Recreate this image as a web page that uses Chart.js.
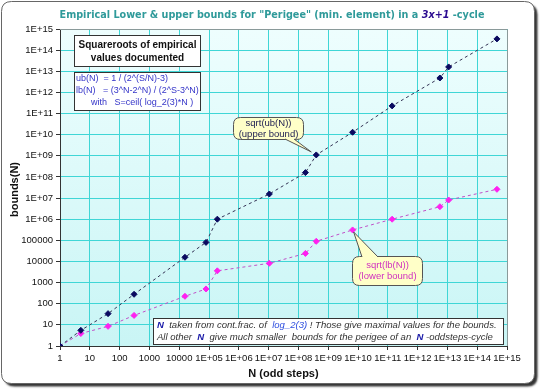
<!DOCTYPE html>
<html><head><meta charset="utf-8">
<script src="https://cdn.jsdelivr.net/npm/chart.js@4.4.1/dist/chart.umd.min.js"></script>
<style>html,body{margin:0;padding:0;background:#fff;}canvas{display:block;}</style>
</head><body>
<canvas id="c" width="540" height="389"></canvas>
<script>
// ---- data ----
const nValues     = [1, 5, 41, 306, 15601, 79335, 190537, 10590737, 171928773, 397573379, 6586818670, 1.4e11, 5.6e12, 1.1e13, 4.6e14];
const upperBound  = [1, 5.5, 34, 280, 15800, 80000, 1.0e6, 1.56e7, 1.6e8, 1.1e9, 1.3e10, 2.3e11, 4.8e12, 1.6e13, 3.4e14];
const lowerBound  = [1, 3.9, 8.5, 28, 225, 500, 3600, 8200, 24000, 90000, 310000, 1.0e6, 3.9e6, 8.1e6, 2.6e7];
const decadeTicks = [1,1e1,1e2,1e3,1e4,1e5,1e6,1e7,1e8,1e9,1e10,1e11,1e12,1e13,1e14,1e15];
const xTickLabels = ['1','10','100','1000','10000','1E+05','1E+06','1E+07','1E+08','1E+09','1E+10','1E+11','1E+12','1E+13','1E+14','1E+15'];
const yTickLabels = ['1','10','100','1000','10000','100000','1E+06','1E+07','1E+08','1E+09','1E+10','1E+11','1E+12','1E+13','1E+14','1E+15'];

const upperPts = nValues.map((n,i)=>({x:n,y:upperBound[i]}));
const lowerPts = nValues.map((n,i)=>({x:n,y:lowerBound[i]}));

const FAM='"Liberation Sans", Arial, sans-serif';
function rr(ctx,x,y,w,h,r){ctx.beginPath();ctx.moveTo(x+r,y);ctx.lineTo(x+w-r,y);ctx.quadraticCurveTo(x+w,y,x+w,y+r);ctx.lineTo(x+w,y+h-r);ctx.quadraticCurveTo(x+w,y+h,x+w-r,y+h);ctx.lineTo(x+r,y+h);ctx.quadraticCurveTo(x,y+h,x,y+h-r);ctx.lineTo(x,y+r);ctx.quadraticCurveTo(x,y,x+r,y);ctx.closePath();}

const bgPlugin = {
  id:'bg',
  beforeDraw(chart){
    const ctx=chart.ctx, a=chart.chartArea;
    ctx.save();
    ctx.fillStyle='#fff';ctx.fillRect(0,0,chart.width,chart.height);
    ctx.shadowColor='rgba(0,0,0,0.8)';ctx.shadowOffsetX=3;ctx.shadowOffsetY=3;ctx.shadowBlur=2;
    rr(ctx,1.5,1.5,533,382,10);ctx.fillStyle='#fff';ctx.fill();
    ctx.shadowColor='transparent';
    ctx.strokeStyle='#666';ctx.lineWidth=1;ctx.stroke();
    const g=ctx.createLinearGradient(0,a.top,0,a.bottom);
    g.addColorStop(0,'#eefefe');g.addColorStop(1,'#c9f5f5');
    ctx.fillStyle=g;ctx.fillRect(a.left,a.top,a.right-a.left,a.bottom-a.top);
    ctx.restore();
  },
  beforeDatasetsDraw(chart){
    const ctx=chart.ctx,a=chart.chartArea;
    ctx.save();ctx.strokeStyle='#8a9a9a';ctx.lineWidth=1;
    ctx.beginPath();ctx.moveTo(a.left,a.top+0.5);ctx.lineTo(a.right+0.5,a.top+0.5);ctx.lineTo(a.right+0.5,a.bottom);ctx.stroke();
    ctx.restore();
  }
};

function callout(ctx,x,y,w,h,base1,base2,tip,lines,color){
  ctx.save();
  rr(ctx,x,y,w,h,7);
  ctx.fillStyle='#ffffc8';ctx.fill();ctx.strokeStyle='#555';ctx.lineWidth=1;ctx.stroke();
  ctx.beginPath();ctx.moveTo(base1[0],base1[1]);ctx.lineTo(tip[0],tip[1]);ctx.lineTo(base2[0],base2[1]);ctx.closePath();
  ctx.fillStyle='#ffffc8';ctx.fill();
  ctx.beginPath();ctx.moveTo(base1[0],base1[1]);ctx.lineTo(tip[0],tip[1]);ctx.lineTo(base2[0],base2[1]);ctx.stroke();
  ctx.fillStyle=color;ctx.font='9.5px '+FAM;ctx.textAlign='center';ctx.textBaseline='middle';
  ctx.fillText(lines[0],x+w/2,y+h/2-5.5);ctx.fillText(lines[1],x+w/2,y+h/2+5.5);
  ctx.restore();
}

const annotPlugin = {
  id:'annot',
  afterDraw(chart){
    const ctx=chart.ctx,a=chart.chartArea,xs=chart.scales.x,ys=chart.scales.y;
    ctx.save();
    // title
    const p1='Empirical Lower & upper bounds for "Perigee" (min. element) in a ';
    const p2='3x+1', p3=' -cycle';
    let fs=11.5;
    ctx.font='bold '+fs+'px "DejaVu Sans", sans-serif';
    let wtot=ctx.measureText(p1+p2+p3).width;
    const target=425; fs=fs*target/wtot;
    const f1='bold '+fs.toFixed(2)+'px "DejaVu Sans", sans-serif';
    const f2='italic bold '+fs.toFixed(2)+'px "DejaVu Sans", sans-serif';
    ctx.font=f1;const w1=ctx.measureText(p1).width,w3=ctx.measureText(p3).width;
    ctx.font=f2;const w2=ctx.measureText(p2).width;
    let tx=272-(w1+w2+w3)/2;ctx.textBaseline='middle';ctx.textAlign='left';
    ctx.font=f1;ctx.fillStyle='#2f9a9a';ctx.fillText(p1,tx,15);
    ctx.font=f2;ctx.fillStyle='#2a0a90';ctx.fillText(p2,tx+w1,15);
    ctx.font=f1;ctx.fillStyle='#2f9a9a';ctx.fillText(p3,tx+w1+w2,15);
    // axis titles
    ctx.fillStyle='#111';ctx.font='bold 11px '+FAM;ctx.textAlign='center';
    ctx.fillText('N (odd steps)',(a.left+a.right)/2,374);
    ctx.save();ctx.translate(15,(a.top+a.bottom)/2+2);ctx.rotate(-Math.PI/2);ctx.fillText('bounds(N)',0,0);ctx.restore();

    // box 1
    ctx.fillStyle='#fff';ctx.strokeStyle='#333';ctx.lineWidth=1;
    ctx.fillRect(74.5,35.5,126,31);ctx.strokeRect(74.5,35.5,126,31);
    ctx.fillStyle='#111';ctx.font='bold 10px '+FAM;ctx.textAlign='center';
    ctx.fillText('Squareroots of empirical',137.5,45);ctx.fillText('values documented',137.5,58);
    // box 2
    ctx.fillStyle='#fff';ctx.fillRect(74.5,72.5,126,38);ctx.strokeRect(74.5,72.5,126,38);
    ctx.fillStyle='#3434c8';ctx.font='9px '+FAM;ctx.textAlign='left';
    ctx.fillText('ub(N)  = 1 / (2^(S/N)-3)',76,79);
    ctx.fillText('lb(N)   = (3^N-2^N) / (2^S-3^N)',76,91);
    ctx.fillText('with   S=ceil( log_2(3)*N )',91,103);

    // bottom box
    ctx.fillStyle='#fff';ctx.strokeStyle='#333';
    ctx.fillRect(153.5,318.5,350,26);ctx.strokeRect(153.5,318.5,350,26);
    const segs1=[['N','bold italic','#1a1aa8'],['  taken from cont.frac. of  ','italic','#333'],['log_2(3)','italic','#3050e0'],[' ! Those give maximal values for the bounds.','italic','#333']];
    const segs2=[['All other  ','italic','#333'],['N','bold italic','#1a1aa8'],['  give much smaller  bounds for the perigee of an  ','italic','#333'],['N','bold italic','#1a1aa8'],[' -oddsteps-cycle','italic','#333']];
    function segW(segs,size){let w=0;for(const s of segs){ctx.font=s[1]+' '+size+'px '+FAM;w+=ctx.measureText(s[0]).width;}return w;}
    function drawSegs(segs,x,y,size){
      for(const s of segs){ctx.font=s[1]+' '+size+'px '+FAM;ctx.fillStyle=s[2];ctx.fillText(s[0],x,y);x+=ctx.measureText(s[0]).width;}
    }
    let bs=10;const bw=Math.max(segW(segs1,bs),segW(segs2,bs));bs=Math.min(10.5,bs*340/bw);
    drawSegs(segs1,157,325.5,bs);
    drawSegs(segs2,157,337.5,bs);

    const up=[xs.getPixelForValue(nValues[9]),ys.getPixelForValue(upperBound[9])];
    callout(ctx,233.5,117.5,70,22,[285,139],[294,139],[up[0]-5,up[1]-3],['sqrt(ub(N))','(upper bound)'],'#1a1a50');
    const lp=[xs.getPixelForValue(nValues[10]),ys.getPixelForValue(lowerBound[10])];
    callout(ctx,352.5,256.5,70,29,[362,257],[378,257],[lp[0]+1,lp[1]+2],['sqrt(lb(N))','(lower bound)'],'#d030c0');
    ctx.restore();
  }
};

const ticksCommon = {font:{size:9.5,family:FAM},color:'#111',autoSkip:false,maxRotation:0,minRotation:0};

new Chart(document.getElementById('c'),{
  type:'scatter',
  data:{datasets:[
    {label:'sqrt(ub(N))',data:upperPts,showLine:true,borderColor:'#333355',borderWidth:1,borderDash:[3,3],
     pointStyle:'rectRot',pointRadius:3,pointBackgroundColor:'#0a0a60',pointBorderColor:'#0a0a60',pointBorderWidth:1},
    {label:'sqrt(lb(N))',data:lowerPts,showLine:true,borderColor:'#c050c8',borderWidth:1,borderDash:[3,3],
     pointStyle:'rectRot',pointRadius:3,pointBackgroundColor:'#ff20f0',pointBorderColor:'#ff20f0',pointBorderWidth:1}
  ]},
  options:{
    responsive:false,animation:false,devicePixelRatio:1,
    layout:{padding:{top:29,right:33,left:0,bottom:0}},
    plugins:{legend:{display:false},tooltip:{enabled:false},title:{display:false}},
    scales:{
      x:{type:'logarithmic',min:1,max:1e15,
        afterBuildTicks(s){s.ticks=decadeTicks.map(v=>({value:v}));},
        afterFit(s){s.height=43;},
        ticks:Object.assign({},ticksCommon,{padding:3,callback:(v,i)=>xTickLabels[i]}),
        grid:{color:'#3fd6d6',lineWidth:1,tickColor:'#333',tickLength:4},
        border:{color:'#333',width:1}},
      y:{type:'logarithmic',min:1,max:1e15,
        afterBuildTicks(s){s.ticks=decadeTicks.map(v=>({value:v}));},
        afterFit(s){s.width=60;},
        ticks:Object.assign({},ticksCommon,{padding:3,callback:(v,i)=>yTickLabels[i]}),
        grid:{color:'#3fd6d6',lineWidth:1,tickColor:'#333',tickLength:4},
        border:{color:'#333',width:1}}
    }
  },
  plugins:[bgPlugin,annotPlugin]
});
</script>
</body></html>
